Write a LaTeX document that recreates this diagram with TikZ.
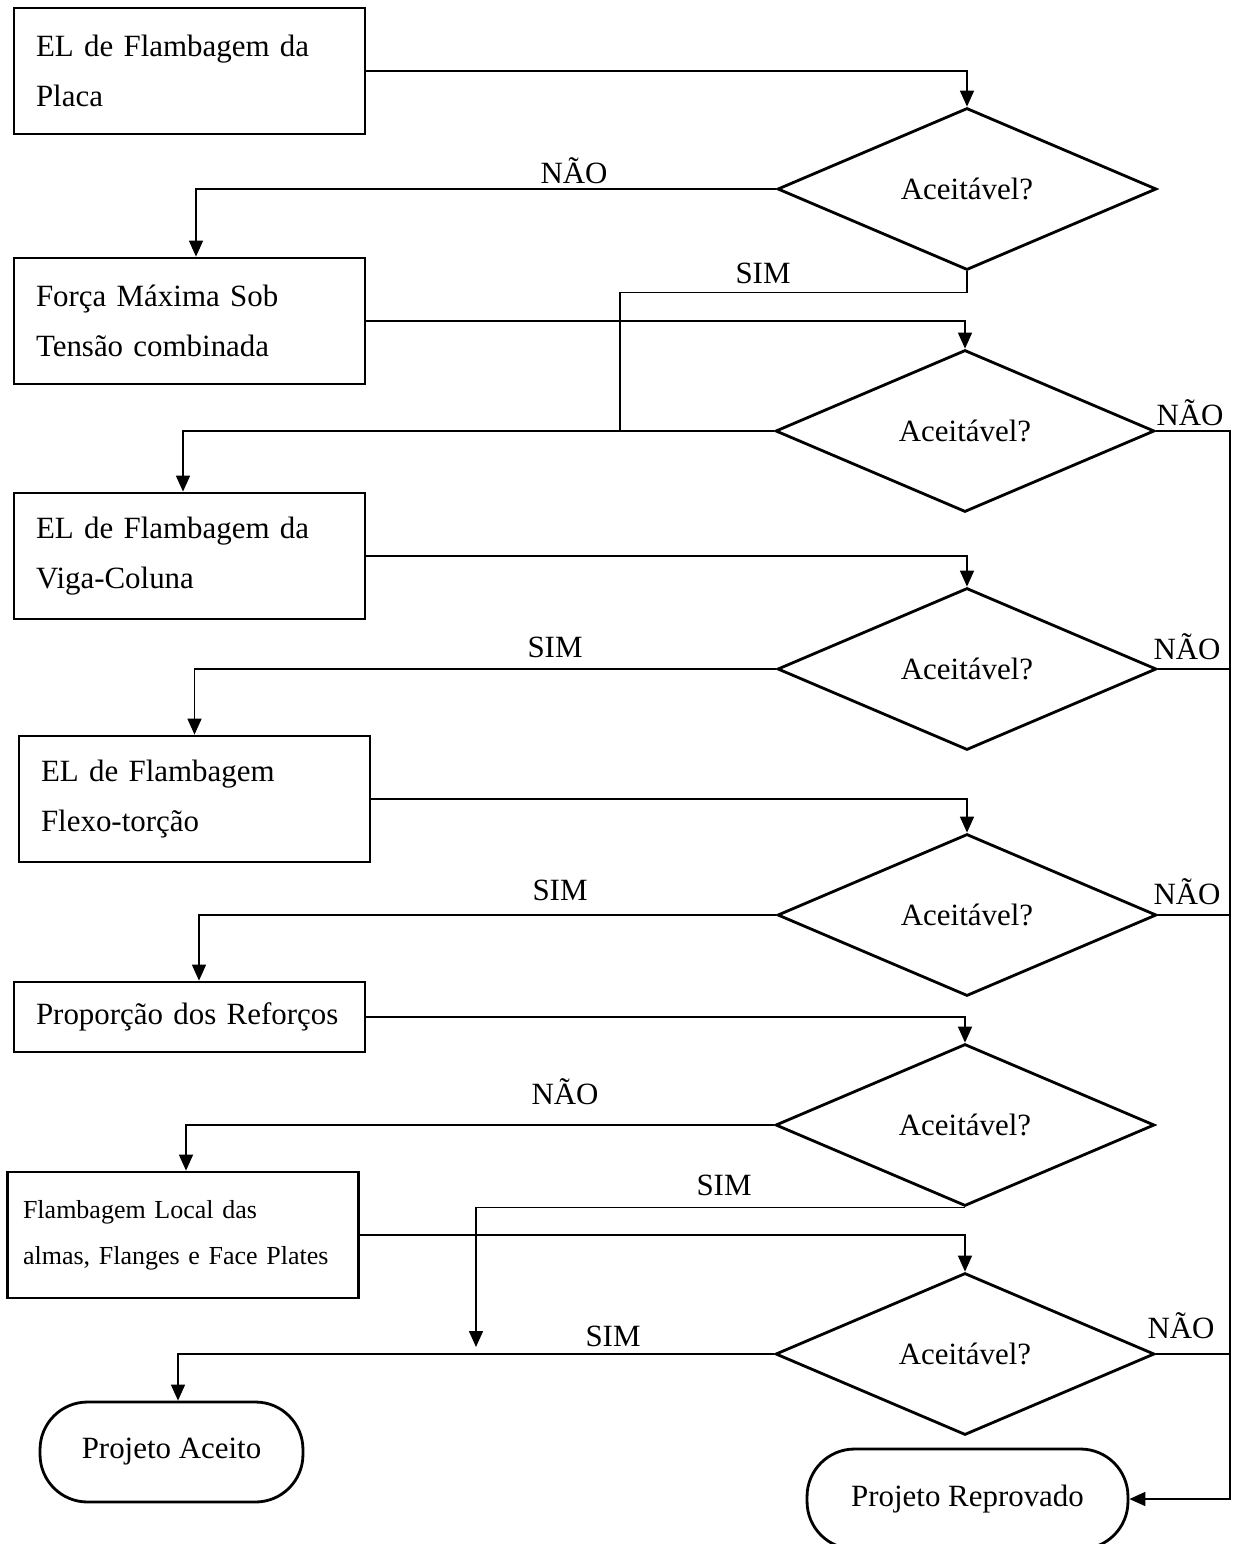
\documentclass[tikz,border=0pt]{standalone}
\usepackage{fontspec}
\setmainfont{Liberation Serif}
\usetikzlibrary{shapes.geometric,arrows.meta}
\tikzstyle{etapa}=[draw, rectangle, line width=1.6pt, text width=6.14cm,
    inner xsep=0.44cm, minimum height=2.52cm, align=left,
    font=\fontsize{17.6}{28.5}\selectfont]
\tikzstyle{decisao}=[draw, diamond, line width=1.6pt, minimum width=7.58cm,
    minimum height=3.24cm, inner sep=0pt, font=\fontsize{17.6}{20}\selectfont]
\tikzstyle{fim}=[draw, rectangle, rounded corners=0.95cm, line width=1.6pt,
    minimum height=2cm, font=\fontsize{17.6}{20}\selectfont]
\tikzstyle{rotulo}=[inner sep=0pt, font=\fontsize{17.6}{20}\selectfont]

\begin{document}
\begin{tikzpicture}[x=0.02cm, y=-0.02cm, line width=0.9pt,
    >={Triangle[length=0.32cm,width=0.28cm]}]
  \useasboundingbox (0,0) rectangle (1236,1544);

  % etapas de verificacao
  \node at (189.5,71) (b1)[etapa] {EL de Flambagem da\\Placa};
  \node at (189.5,321) (b2)[etapa] {For\c{c}a M\'axima Sob\\Tens\~ao combinada};
  \node at (189.5,556) (b3)[etapa] {EL de Flambagem da\\Viga-Coluna};
  \node at (194.5,799) (b4)[etapa] {EL de Flambagem\\Flexo-tor\c{c}\~ao};
  \node at (189.5,1017) (b5)[etapa, minimum height=1.4cm] {Propor\c{c}\~ao dos Refor\c{c}os};
  \node at (183,1235) (b6)[etapa, text width=6.4cm, inner xsep=0.31cm,
      font=\fontsize{14.8}{26}\selectfont]
      {Flambagem Local das\\almas, Flanges e Face Plates};

  % decisoes
  \node at (967,189) (d1)[decisao] {Aceit\'avel?};
  \node at (965,431) (d2)[decisao] {Aceit\'avel?};
  \node at (967,669) (d3)[decisao] {Aceit\'avel?};
  \node at (967,915) (d4)[decisao] {Aceit\'avel?};
  \node at (965,1125) (d5)[decisao] {Aceit\'avel?};
  \node at (965,1354) (d6)[decisao] {Aceit\'avel?};

  \node at (171.5,1452) (ok)[fim, minimum width=5.26cm] {Projeto Aceito};
  \node at (967.5,1499) (rep)[fim, minimum width=6.42cm] {Projeto Reprovado};

  % rotulos
  \node[rotulo] at (574,171) (n1) {N\~AO};
  \node[rotulo] at (763,273) (s1) {SIM};
  \node[rotulo] at (1190,413) (n2) {N\~AO};
  \node[rotulo] at (555,647) (s2) {SIM};
  \node[rotulo] at (1187,647) (n3) {N\~AO};
  \node[rotulo] at (560,890) (s3) {SIM};
  \node[rotulo] at (1187,892) (n4) {N\~AO};
  \node[rotulo] at (565,1092) (n5) {N\~AO};
  \node[rotulo] at (724,1185) (s5) {SIM};
  \node[rotulo] at (613,1336) (s6) {SIM};
  \node[rotulo] at (1181,1326) (n6) {N\~AO};

  \coordinate (j1) at (620,431);
  \coordinate (j2) at (476,1347);
  \coordinate (trilho) at (1230,0);

  \draw[->] (b1.east) -| (d1.north);
  \draw[->] (d1.west) -| ([xshift=0.13cm]b2.north);
  \draw (d1.south) -- ++(0,21) -| (j1);

  \draw[->] (b2.east) -| (d2.north);
  \draw[->] (d2.west) -| ([xshift=-0.13cm]b3.north);
  \draw[->] (d2.east) -- (d2.east -| trilho) -- (trilho |- rep.east) -- (rep.east);

  \draw[->] (b3.east) -| (d3.north);
  \draw[->] (d3.west) -| (b4.north);
  \draw (d3.east) -- (d3.east -| trilho);

  \draw[->] (b4.east) -| (d4.north);
  \draw[->] (d4.west) -| ([xshift=0.19cm]b5.north);
  \draw (d4.east) -- (d4.east -| trilho);

  \draw[->] (b5.east) -| (d5.north);
  \draw[->] (d5.west) -| ([xshift=0.06cm]b6.north);
  \draw[->] (d5.south) -| (j2);

  \draw[->] (b6.east) -| (d6.north);
  \draw[->] (d6.west) -| ([xshift=0.13cm]ok.north);
  \draw (d6.east) -- (d6.east -| trilho);
\end{tikzpicture}
\end{document}
